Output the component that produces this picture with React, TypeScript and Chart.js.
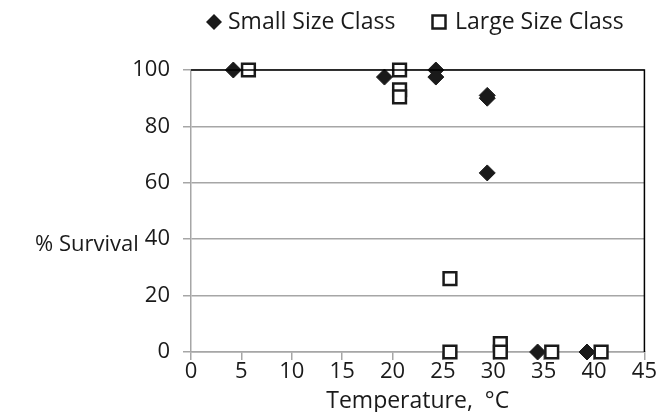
import React, { useEffect, useRef } from "react";
import { Chart, registerables } from "chart.js";

Chart.register(...registerables);

const smallTemp = [4.2, 19.2, 24.3, 24.3, 29.4, 29.4, 29.4, 34.4, 39.3];
const smallSurv = [100, 97.5, 100, 97.5, 91, 90, 63.5, 0, 0];
const largeTemp = [5.7, 20.7, 20.7, 20.7, 25.7, 25.7, 30.7, 30.7, 35.8, 40.7];
const largeSurv = [100, 100, 93, 90.5, 26, 0, 3, 0, 0, 0];
const xTicks = [0, 5, 10, 15, 20, 25, 30, 35, 40, 45];
const yTicks = [0, 20, 40, 60, 80, 100];
const seriesNames = ["Small Size Class", "Large Size Class"];
const xTitle = "Temperature,  \u00B0C";
const yTitle = "% Survival";

const FONT = "'Open Sans', sans-serif";
const INK = "#1a1a1a";

const extrasPlugin = {
  id: "extras",
  afterDraw(chart: any) {
    const { ctx, chartArea } = chart;
    ctx.save();
    // black top and right frame
    ctx.strokeStyle = "#000";
    ctx.lineWidth = 1.5;
    ctx.beginPath();
    ctx.moveTo(chartArea.left, chartArea.top);
    ctx.lineTo(chartArea.right, chartArea.top);
    ctx.lineTo(chartArea.right, chartArea.bottom);
    ctx.stroke();
    // y title (horizontal)
    ctx.fillStyle = INK;
    ctx.font = `22px ${FONT}`;
    ctx.textAlign = "left";
    ctx.textBaseline = "middle";
    ctx.fillText(yTitle, 27, 237);
    // legend
    ctx.font = `23px ${FONT}`;
    const ly = 14;
    ctx.beginPath();
    ctx.moveTo(198, ly);
    ctx.lineTo(206, ly - 8);
    ctx.lineTo(214, ly);
    ctx.lineTo(206, ly + 8);
    ctx.closePath();
    ctx.fillStyle = INK;
    ctx.fill();
    ctx.fillText(seriesNames[0], 220, ly);
    ctx.strokeStyle = INK;
    ctx.lineWidth = 2.5;
    ctx.fillStyle = "#fff";
    ctx.fillRect(424.5, ly - 6.5, 13, 13);
    ctx.strokeRect(424.5, ly - 6.5, 13, 13);
    ctx.fillStyle = INK;
    ctx.fillText(seriesNames[1], 447, ly);
    ctx.restore();
  },
};

export default function App() {
  const ref = useRef<HTMLCanvasElement>(null);
  useEffect(() => {
    if (!ref.current) return;
    const chart = new Chart(ref.current, {
      type: "scatter",
      data: {
        datasets: [
          {
            label: seriesNames[0],
            data: smallTemp.map((x, i) => ({ x, y: smallSurv[i] })),
            pointStyle: "rectRot",
            pointRadius: 8,
            backgroundColor: INK,
            borderColor: INK,
            borderWidth: 1,
            clip: false,
          },
          {
            label: seriesNames[1],
            data: largeTemp.map((x, i) => ({ x, y: largeSurv[i] })),
            pointStyle: "rect",
            pointRadius: 9,
            backgroundColor: "#ffffff",
            borderColor: INK,
            borderWidth: 2.5,
            clip: false,
          },
        ],
      },
      options: {
        animation: false,
        responsive: true,
        maintainAspectRatio: false,
        layout: { padding: { top: 62, right: 7, bottom: 0, left: 0 } },
        plugins: {
          tooltip: { enabled: false },
          legend: { display: false },
        },
        scales: {
          x: {
            type: "linear",
            min: 0,
            max: 45,
            afterBuildTicks: (s: any) => {
              s.ticks = xTicks.map((v) => ({ value: v }));
            },
            afterFit: (s: any) => {
              s.height = 60;
            },
            grid: {
              display: true,
              drawOnChartArea: false,
              drawTicks: true,
              tickLength: 8,
              color: "#a6a6a6",
              lineWidth: 1.5,
            },
            border: { color: "#a6a6a6", width: 1.5 },
            ticks: {
              color: INK,
              padding: -1,
              maxRotation: 0,
              font: { family: FONT, size: 22 },
            },
            title: {
              display: true,
              text: xTitle,
              color: INK,
              font: { family: FONT, size: 23 },
              padding: { top: 0, bottom: -3 },
            },
          },
          y: {
            type: "linear",
            min: 0,
            max: 100,
            afterBuildTicks: (s: any) => {
              s.ticks = yTicks.map((v) => ({ value: v }));
            },
            afterFit: (s: any) => {
              s.width = 183;
            },
            grid: { color: "#a6a6a6", lineWidth: 1.5, tickLength: 8 },
            border: { color: "#a6a6a6", width: 1.5 },
            ticks: {
              color: INK,
              padding: 13,
              font: { family: FONT, size: 22 },
            },
          },
        },
      },
      plugins: [extrasPlugin],
    });
    return () => chart.destroy();
  }, []);
  return (
    <div style={{ width: 648, height: 404, position: "relative" }}>
      <canvas ref={ref} />
    </div>
  );
}
